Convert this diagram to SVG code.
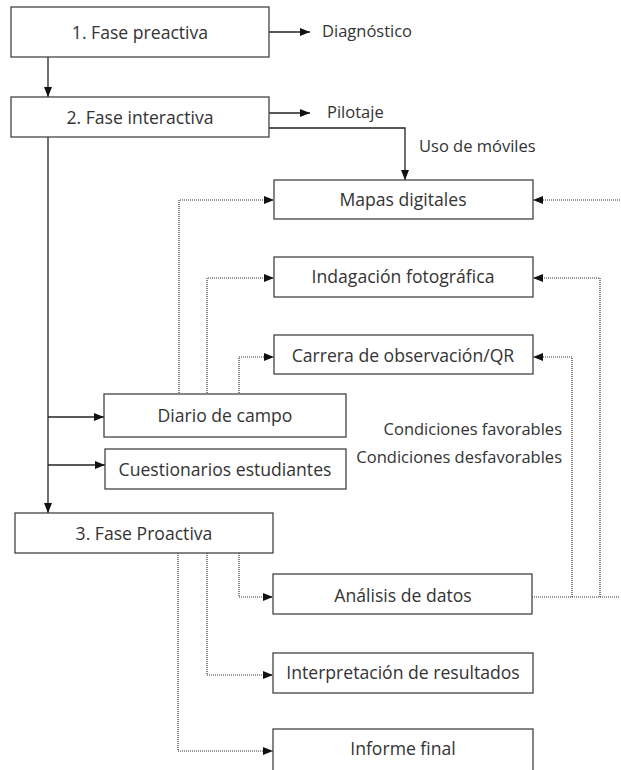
<svg xmlns="http://www.w3.org/2000/svg" width="621" height="770" viewBox="0 0 621 770">
<style>
.box{fill:#fff;stroke:#444;stroke-width:1.3}
.t{font-family:"Open Sans","Noto Sans",sans-serif;font-size:17.6px;fill:#333;text-anchor:middle}
.l{font-family:"Open Sans","Noto Sans",sans-serif;font-size:16.5px;fill:#333}
.s{fill:none;stroke:#222;stroke-width:1.3}
.d{fill:none;stroke:#333;stroke-width:1.2;stroke-dasharray:1 1}
</style>
<defs>
<marker id="a" markerWidth="10" markerHeight="8" refX="10" refY="4" orient="auto" markerUnits="userSpaceOnUse">
<path d="M0,0 L10,4 L0,8 Z" fill="#111"/>
</marker>
</defs>
<g id="connectors">
<path class="s" d="M269,32 H310" marker-end="url(#a)"/>
<path class="s" d="M48,57 V97" marker-end="url(#a)"/>
<path class="s" d="M269,113 H310" marker-end="url(#a)"/>
<path class="s" d="M269,128 H405 V180" marker-end="url(#a)"/>
<path class="s" d="M48,137 V513" marker-end="url(#a)"/>
<path class="s" d="M48,417 H104" marker-end="url(#a)"/>
<path class="s" d="M48,465 H105" marker-end="url(#a)"/>
<path class="d" d="M179,393 V200 H274" marker-end="url(#a)"/>
<path class="d" d="M207,393 V278 H274" marker-end="url(#a)"/>
<path class="d" d="M239,393 V357 H274" marker-end="url(#a)"/>
<path class="d" d="M620,200 H533" marker-end="url(#a)"/>
<path class="d" d="M532,597 H620"/>
<path class="d" d="M600,597 V278 H533" marker-end="url(#a)"/>
<path class="d" d="M572,597 V357 H533" marker-end="url(#a)"/>
<path class="d" d="M239,553 V597 H273" marker-end="url(#a)"/>
<path class="d" d="M207,553 V675 H273" marker-end="url(#a)"/>
<path class="d" d="M178,553 V751 H273" marker-end="url(#a)"/>
</g>
<g id="n1"><rect class="box" x="11" y="7" width="258" height="50"/><text class="t" x="140" y="39">1. Fase preactiva</text></g>
<g id="diag"><text class="l" x="322" y="37">Diagnóstico</text></g>
<g id="n2"><rect class="box" x="11" y="97" width="258" height="40"/><text class="t" x="140" y="124">2. Fase interactiva</text></g>
<g id="pilotaje"><text class="l" x="327" y="118">Pilotaje</text></g>
<g id="uso"><text class="l" x="419" y="152">Uso de móviles</text></g>
<g id="mapas"><rect class="box" x="274" y="180" width="259" height="39"/><text class="t" x="403" y="206">Mapas digitales</text></g>
<g id="indag"><rect class="box" x="274" y="257" width="259" height="40"/><text class="t" x="403" y="283">Indagación fotográfica</text></g>
<g id="carrera"><rect class="box" x="274" y="335" width="259" height="39"/><text class="t" x="403" y="362">Carrera de observación/QR</text></g>
<g id="diario"><rect class="box" x="104" y="394" width="242" height="43"/><text class="t" x="225" y="422">Diario de campo</text></g>
<g id="cuest"><rect class="box" x="105" y="449" width="241" height="40"/><text class="t" x="225" y="476">Cuestionarios estudiantes</text></g>
<g id="cond"><text class="l" x="562" y="435" text-anchor="end">Condiciones favorables</text><text class="l" x="562" y="463" text-anchor="end">Condiciones desfavorables</text></g>
<g id="n3"><rect class="box" x="15" y="513" width="258" height="40"/><text class="t" x="144" y="540">3. Fase Proactiva</text></g>
<g id="analisis"><rect class="box" x="273" y="574" width="259" height="40"/><text class="t" x="403" y="602">Análisis de datos</text></g>
<g id="interp"><rect class="box" x="273" y="653" width="260" height="40"/><text class="t" x="403" y="679">Interpretación de resultados</text></g>
<g id="informe"><rect class="box" x="273" y="729" width="260" height="44"/><text class="t" x="403" y="755">Informe final</text></g>
</svg>
